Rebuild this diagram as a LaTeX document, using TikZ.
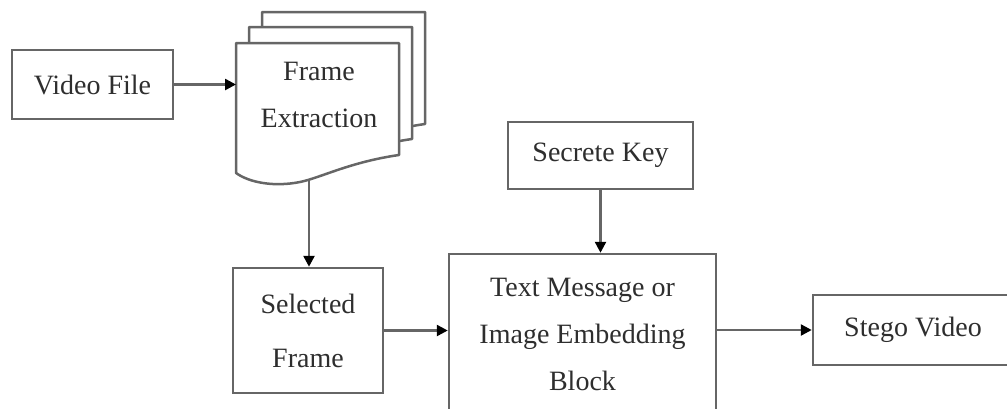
\documentclass[tikz,border=0pt]{standalone}
\usepackage{fontspec}
\setmainfont{Liberation Serif}
\usetikzlibrary{arrows.meta}
\definecolor{edge}{HTML}{666666}
\definecolor{ink}{HTML}{2E2E2E}
\tikzset{
  blockbox/.style={draw=edge, line width=2.5pt, fill=white, rectangle, inner sep=0pt,
    align=center, text=ink, font=\fontsize{28}{47}\selectfont},
  page/.style={draw=edge, line width=2.5pt, fill=white, line join=round},
  flow/.style={draw=edge, line width=2.5pt,
    -{Triangle[length=11pt,width=11pt,color=black]}},
  label/.style={align=center, text=ink, font=\fontsize{28}{47}\selectfont, inner sep=0pt}
}
\begin{document}
\begin{tikzpicture}[x=1pt, y=-1pt]
\useasboundingbox (0,0) rectangle (1007,408);
\clip (0,0) rectangle (1007,408);

% stacked pages of the extraction step (back to front)
\foreach \dx/\dy in {26/-31, 13/-16, 0/0} {
  \draw[page, shift={(\dx,\dy)}]
    (236,43) -- (399,43) -- (399,155)
    .. controls (350,162) and (320,178) .. (300,182)
    .. controls (275,187) and (250,183) .. (236,173) -- cycle;
}
\node[label] (fe) at (319,95) {Frame\\Extraction};
\coordinate (febot) at (309,180);

% blocks
\node[blockbox, minimum width=161pt, minimum height=69pt] (vf) at (92.5,84.5) {Video File};
\node[blockbox, minimum width=150pt, minimum height=125pt,
      font=\fontsize{28}{54}\selectfont] (sf) at (308,330.5) {Selected\\Frame};
\node[blockbox, minimum width=185pt, minimum height=67pt] (sk) at (600.5,155.5) {Secrete Key};
\node[blockbox, minimum width=267pt, minimum height=160pt] (tm) at (582.5,334)
      {Text Message or\\Image Embedding\\Block};
\node[blockbox, minimum width=200pt, minimum height=70pt] (sv) at (913,330) {Stego Video};

% connectors
\draw[flow] (vf.east) -- (vf.east -| 236,0);
\draw[flow] (febot) -- (febot |- sf.north);
\draw[flow] (sk.south) -- (sk.south |- tm.north);
\draw[flow] (sf.east) -- (sf.east -| tm.west);
\draw[flow] (tm.east |- sv.west) -- (sv.west);
\end{tikzpicture}
\end{document}
